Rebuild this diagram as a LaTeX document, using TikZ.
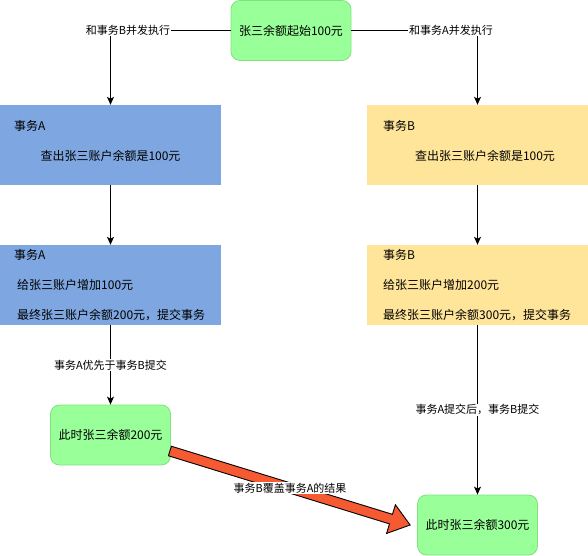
\documentclass[tikz,border=0pt]{standalone}
\usepackage{fontspec}
\setmainfont{Noto Sans CJK SC}
\usetikzlibrary{arrows.meta,calc}
\definecolor{gfill}{HTML}{99FF99}
\definecolor{gdraw}{HTML}{82E07E}
\definecolor{bfill}{HTML}{7EA6E0}
\definecolor{yfill}{HTML}{FFE599}
\definecolor{ofill}{HTML}{F65A32}
\begin{document}
\begin{tikzpicture}[x=1bp,y=-1bp,
  gbox/.style={draw=gdraw, fill=gfill, rounded corners=9bp, line width=0.8bp,
    minimum width=120bp, minimum height=60bp, inner sep=0pt,
    font=\fontsize{12bp}{14bp}\selectfont},
  abox/.style={fill=bfill, minimum width=221bp, minimum height=80bp, inner sep=0pt},
  ybox/.style={fill=yfill, minimum width=221bp, minimum height=80bp, inner sep=0pt},
  txt/.style={inner sep=0pt, font=\fontsize{12bp}{14bp}\selectfont},
  lbl/.style={fill=white, inner sep=1bp, font=\fontsize{11bp}{13bp}\selectfont},
  conn/.style={draw=black, line width=1bp, -{Stealth[length=8bp,width=7bp,inset=2bp]}},
  bigarrow/.style={draw=black, fill=ofill, line width=0.9bp, line join=miter}
]
\useasboundingbox (0,0) rectangle (588,556);

% main boxes
\node[gbox] (g0) at (291,30.5) {张三余额起始100元};
\node[abox] (a1) at (110.5,145) {};
\node[abox] (a2) at (110.5,285) {};
\node[ybox] (b1) at (477.5,145) {};
\node[ybox] (b2) at (477.5,285) {};
\node[gbox] (g2) at (110.5,435) {此时张三余额200元};
\node[gbox] (g3) at (477.5,525) {此时张三余额300元};

% texts inside boxes
\node[txt, anchor=west] (a1h) at (14,126) {事务A};
\node[txt] (a1t) at (110.5,156) {查出张三账户余额是100元};
\node[txt, anchor=west] (a2h) at (14,255) {事务A};
\node[txt, anchor=west] (a2t) at (17,285) {给张三账户增加100元};
\node[txt, anchor=west] (a2u) at (17,315) {最终张三账户余额200元，提交事务};
\node[txt, anchor=west] (b1h) at (383,126) {事务B};
\node[txt] (b1t) at (485,156) {查出张三账户余额是100元};
\node[txt, anchor=west] (b2h) at (383,255) {事务B};
\node[txt, anchor=west] (b2t) at (383,285) {给张三账户增加200元};
\node[txt, anchor=west] (b2u) at (383,315) {最终张三账户余额300元，提交事务};

% connectors
\draw[conn] (g0.west) -| (a1.north);
\node[lbl] (l1) at (128,30) {和事务B并发执行};
\draw[conn] (g0.east) -| (b1.north);
\node[lbl] (l2) at (451,30) {和事务A并发执行};
\draw[conn] (a1.south) -- (a2.north);
\draw[conn] (b1.south) -- (b2.north);
\draw[conn] (a2.south) -- node[lbl] (l3) {事务A优先于事务B提交} (g2.north);
\draw[conn] (b2.south) -- node[lbl] (l4) {事务A提交后，事务B提交} (g3.north);

% big flat arrow
\coordinate (bs) at ($(g2.east)+(-1,16)$);
\coordinate (bt) at ($(g3.west)+(-7,0)$);
\coordinate (hb) at ($(bt)!20bp!(bs)$);
\draw[bigarrow] ($(bs)!5bp!90:(bt)$) -- ($(hb)!5bp!-90:(bs)$) -- ($(hb)!15bp!-90:(bs)$)
  -- (bt) -- ($(hb)!15bp!90:(bs)$) -- ($(hb)!5bp!90:(bs)$) -- ($(bs)!5bp!-90:(bt)$) -- cycle;
\node[lbl] (l5) at ($(bs)!0.5!(bt)$) {事务B覆盖事务A的结果};
\end{tikzpicture}
\end{document}
